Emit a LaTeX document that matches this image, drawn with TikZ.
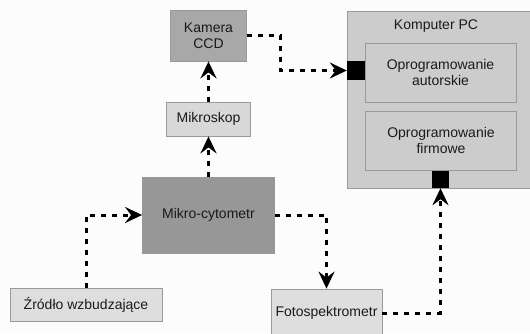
\documentclass[tikz,border=0pt]{standalone}
\usepackage{fontspec}
\setmainfont{Liberation Sans}
\usetikzlibrary{arrows.meta}
\definecolor{bgc}{HTML}{FCFCFC}
\definecolor{camfill}{HTML}{A8A8A8}
\definecolor{lightfill}{HTML}{D8D8D8}
\definecolor{paler}{HTML}{DEDEDE}
\definecolor{darkfill}{HTML}{979797}
\definecolor{pcfill}{HTML}{CCCCCC}
\definecolor{bordc}{HTML}{999999}
\definecolor{txtc}{HTML}{1A1A1A}
\begin{document}
\begin{tikzpicture}[x=1pt,y=-1pt,
  every node/.style={font=\fontsize{14}{16.5}\selectfont, text=txtc},
  box/.style={draw=bordc, line width=0.8pt, inner sep=0pt, align=center, rectangle},
  port/.style={fill=black, draw=none, inner sep=0pt, rectangle},
  conn/.style={line width=3pt, dash pattern=on 5pt off 6pt,
    -{Stealth[length=17pt,width=16pt,inset=6pt]}}]
\useasboundingbox (0,0) rectangle (530,333);
\fill[bgc] (0,0) rectangle (530,333);
% nodes
\node[box, fill=pcfill, minimum width=203pt, minimum height=177pt] (pc) at (448.5,99.5) {};
\node (pclabel) at (436,26) {Komputer PC};
\node[box, fill=pcfill, minimum width=151pt, minimum height=59pt] (sw1) at (440.5,72.5) {Oprogramowanie\\autorskie};
\node[box, fill=pcfill, minimum width=151pt, minimum height=59pt] (sw2) at (441,140.5) {Oprogramowanie\\firmowe};
\node[port, minimum width=18pt, minimum height=19pt] (port1) at (356,70.5) {};
\node[port, minimum width=17pt, minimum height=17pt] (port2) at (440.5,179.5) {};
\node[box, fill=camfill, minimum width=76pt, minimum height=51pt] (kamera) at (208.5,35.5) {Kamera\\CCD};
\node[box, fill=lightfill, minimum width=84pt, minimum height=34pt] (mikroskop) at (208.5,119) {Mikroskop};
\node[box, fill=darkfill, draw=darkfill, minimum width=132pt, minimum height=76pt] (mikro) at (208.5,215) {Mikro-cytometr};
\node[box, fill=paler, minimum width=152pt, minimum height=33pt] (zrodlo) at (86,304.5) {Źródło wzbudzające};
\node[box, fill=paler, minimum width=111pt, minimum height=48pt] (foto) at (326.5,313) {Fotospektrometr};
% connectors
\draw[conn] (kamera.east) -- ++(34,0) |- (port1.west);
\draw[conn] (mikroskop.north) -- (kamera.south);
\draw[conn] (mikro.north) -- (mikroskop.south);
\draw[conn] (zrodlo.north) |- (mikro.west);
\draw[conn] (mikro.east) -| (foto.north);
\draw[conn] (foto.east) -| (port2.south);
\end{tikzpicture}
\end{document}
